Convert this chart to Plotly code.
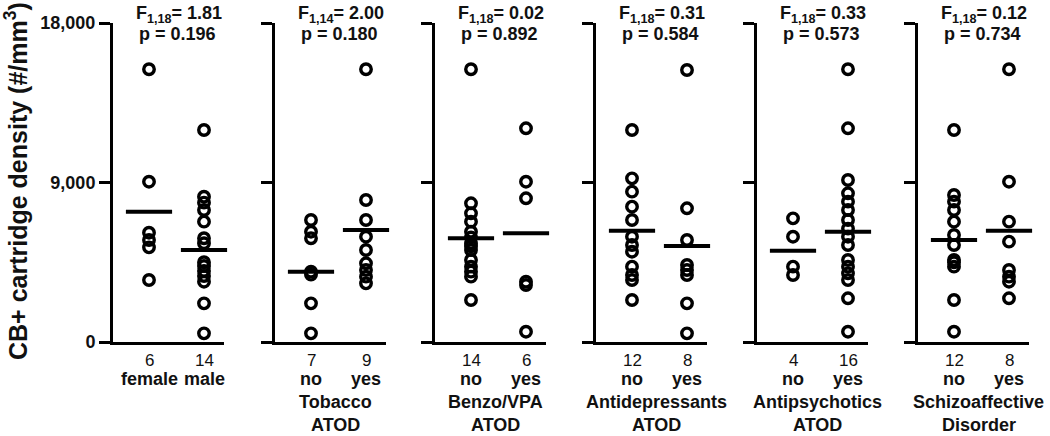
import plotly.graph_objects as go

# ---------------- data ----------------
panel_titles = ["", "Tobacco<br>ATOD", "Benzo/VPA<br>ATOD", "Antidepressants<br>ATOD",
                "Antipsychotics<br>ATOD", "Schizoaffective<br>Disorder"]
group_labels = [["female", "male"], ["no", "yes"], ["no", "yes"],
                ["no", "yes"], ["no", "yes"], ["no", "yes"]]
group_counts = [[6, 14], [7, 9], [14, 6], [12, 8], [4, 16], [12, 8]]
stat_F = ["F<sub>1,18</sub>= 1.81", "F<sub>1,14</sub>= 2.00", "F<sub>1,18</sub>= 0.02",
          "F<sub>1,18</sub>= 0.31", "F<sub>1,18</sub>= 0.33", "F<sub>1,18</sub>= 0.12"]
stat_p = ["p = 0.196", "p = 0.180", "p = 0.892", "p = 0.584", "p = 0.573", "p = 0.734"]

sex_female = [15390, 9046, 6168, 5756, 5342, 3499]
sex_male = [11963, 8200, 7862, 7449, 6790, 5853, 5570, 4500, 4289, 4006, 3724, 3403, 2182, 489]
tobacco_no = [6884, 6225, 5853, 3969, 3800, 2182, 489]
tobacco_yes = [15390, 8013, 6884, 5942, 5191, 4440, 4063, 3687, 3310]
benzo_no = [15390, 7825, 7262, 6790, 6224, 5900, 5570, 5400, 5191, 4627, 4251, 3969, 3687, 2370]
benzo_yes = [12058, 9046, 8109, 3400, 3216, 582]
antidep_no = [11963, 9234, 8483, 7637, 6884, 5942, 5474, 5096, 4251, 3781, 3499, 2370]
antidep_yes = [15349, 7545, 5756, 4345, 4063, 3781, 2182, 489]
antipsy_no = [6978, 5942, 4251, 3781]
antipsy_yes = [15390, 12058, 9142, 8391, 7919, 7449, 6884, 6400, 5942, 5474, 4627, 4251,
               3875, 3499, 2466, 582]
schizo_no = [11963, 8295, 7919, 7449, 6790, 6038, 5474, 4627, 4500, 4251, 2370, 582]
schizo_yes = [15390, 9046, 6790, 5661, 4063, 3687, 3403, 2466]

group_means = [[7353, 5191], [3969, 6320], [5853, 6134], [6281, 5417], [5153, 6225], [5756, 6281]]

panels = [(sex_female, sex_male), (tobacco_no, tobacco_yes), (benzo_no, benzo_yes),
          (antidep_no, antidep_yes), (antipsy_no, antipsy_yes), (schizo_no, schizo_yes)]

y_ticks = [0, 9000, 18000]
y_ticktext = ["0", "9,000", "18,000"]
y_title = "CB+ cartridge density (#/mm<sup>3</sup>)"

# ---------------- layout geometry ----------------
W, H = 1050, 436
axis_px = [113, 275, 435, 596, 757, 918]
panel_w = 111
g0_off, g1_off = 36, 91
unit = g1_off - g0_off
x_range = [-g0_off / unit, (panel_w - g0_off) / unit]
y_top_px, y_bot_px = 23, 342
FONT = "Liberation Sans, Arial, sans-serif"


def px_x(p):
    return p / W


def px_y(p):
    return 1 - p / H


fig = go.Figure()
layout = dict(
    width=W, height=H, margin=dict(l=0, r=0, t=0, b=0, pad=0, autoexpand=False),
    paper_bgcolor="white", plot_bgcolor="white", showlegend=False,
    font=dict(family=FONT, color="black"),
)
annotations = []

for i, (ga, gb) in enumerate(panels):
    sfx = "" if i == 0 else str(i + 1)
    ax = axis_px[i]
    layout["xaxis" + sfx] = dict(
        domain=[px_x(ax), px_x(ax + panel_w)], range=x_range, anchor="y" + sfx,
        showline=True, linewidth=3, linecolor="black", showticklabels=False,
        ticks="", showgrid=False, zeroline=False, fixedrange=True, automargin=False,
    )
    ydict = dict(
        domain=[px_y(y_bot_px), px_y(y_top_px)], range=[0, 18000], anchor="x" + sfx,
        showline=True, linewidth=3, linecolor="black", ticks="outside", ticklen=11,
        tickwidth=3, tickcolor="black", tickvals=y_ticks, showgrid=False,
        zeroline=False, fixedrange=True, automargin=False,
    )
    if i == 0:
        ydict.update(ticktext=["<b>%s</b>" % t for t in y_ticktext],
                     tickfont=dict(size=18, family=FONT, color="#111"))
    else:
        ydict.update(showticklabels=False)
    layout["yaxis" + sfx] = ydict

    for g, vals in enumerate((ga, gb)):
        fig.add_trace(go.Scatter(
            x=[g] * len(vals), y=vals, mode="markers", xaxis="x" + sfx, yaxis="y" + sfx,
            marker=dict(symbol="circle-open", size=10.5, color="black",
                        line=dict(width=3.4, color="black")),
            cliponaxis=False, hoverinfo="y",
        ))
    fig.add_trace(go.Scatter(
        x=[0, 1], y=group_means[i], mode="markers", xaxis="x" + sfx, yaxis="y" + sfx,
        marker=dict(symbol="line-ew", size=33, color="black",
                    line=dict(width=4, color="black")),
        cliponaxis=False, hoverinfo="y",
    ))

    c0 = ax + g0_off
    c1 = ax + g1_off
    cm = (c0 + c1) / 2
    for g, cx in enumerate((c0, c1)):
        annotations.append(dict(
            x=px_x(cx), y=px_y(360), xref="paper", yref="paper", showarrow=False,
            text=str(group_counts[i][g]), xanchor="center", yanchor="middle",
            font=dict(size=17, family=FONT, color="#111")))
        annotations.append(dict(
            x=px_x(cx), y=px_y(379), xref="paper", yref="paper", showarrow=False,
            text="<b>%s</b>" % group_labels[i][g], xanchor="center", yanchor="middle",
            font=dict(size=18, family=FONT, color="#111")))
    if panel_titles[i]:
        lines = panel_titles[i].split("<br>")
        for k, ln in enumerate(lines):
            annotations.append(dict(
                x=px_x(cm - 3), y=px_y(402 + 23 * k), xref="paper", yref="paper",
                showarrow=False, text="<b>%s</b>" % ln, xanchor="center",
                yanchor="middle", font=dict(size=18, family=FONT, color="#111")))
    annotations.append(dict(
        x=px_x(cm + 2), y=px_y(14), xref="paper", yref="paper", showarrow=False,
        text="<b>%s</b>" % stat_F[i], xanchor="center", yanchor="middle",
        font=dict(size=18, family=FONT, color="#111")))
    annotations.append(dict(
        x=px_x(cm + 1), y=px_y(34), xref="paper", yref="paper", showarrow=False,
        text="<b>%s</b>" % stat_p[i], xanchor="center", yanchor="middle",
        font=dict(size=18, family=FONT, color="#111")))

annotations.append(dict(
    x=px_x(16), y=px_y(181), xref="paper", yref="paper", showarrow=False,
    text="<b>%s</b>" % y_title, textangle=-90, xanchor="center", yanchor="middle",
    font=dict(size=25, family=FONT, color="#111")))

layout["annotations"] = annotations
fig.update_layout(**layout)
fig.write_html("out.html", config={"displayModeBar": False},
               post_script="document.body.style.margin='0px';")
